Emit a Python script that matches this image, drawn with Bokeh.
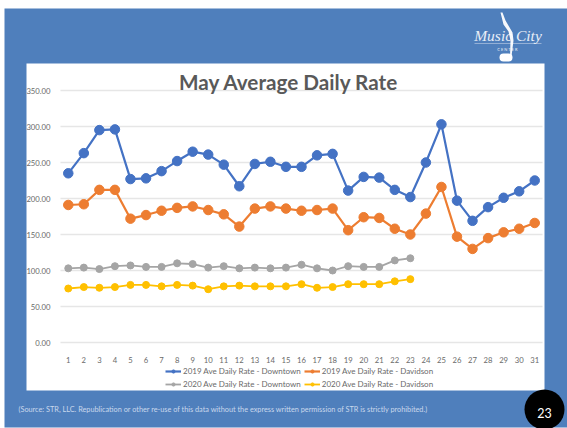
from bokeh.plotting import figure
from bokeh.models import BoxAnnotation, Label, Legend, LegendItem, NumeralTickFormatter, FixedTicker, Range1d, PolyAnnotation
from bokeh.embed import file_html
from bokeh.resources import INLINE

days = list(range(1, 32))
days_2020 = list(range(1, 24))
y_ticks = [0, 50, 100, 150, 200, 250, 300, 350]
rate_2019_downtown = [235, 263, 295, 296, 227, 228, 238, 252, 265, 261, 247, 217, 248, 251, 244, 244, 260, 262, 211, 230, 229, 212, 202, 250, 303, 197, 169, 188, 201, 210, 225]
rate_2019_davidson = [191, 192, 212, 212, 172, 177, 183, 187, 189, 184, 178, 161, 186, 189, 186, 183, 184, 186, 156, 174, 173, 158, 150, 179, 216, 147, 130, 145, 153, 158, 166]
rate_2020_downtown = [103, 104, 102, 106, 107, 105, 105, 110, 109, 104, 106, 103, 104, 103, 104, 108, 103, 100, 106, 105, 105, 114, 117]
rate_2020_davidson = [75, 77, 76, 77, 80, 80, 78, 80, 79, 74, 78, 79, 78, 78, 78, 81, 76, 77, 81, 81, 81, 85, 88]

BLUE_BG = "#4F7FBC"
FONT = "Lato"
TXT = "#6a6a6a"
W, H = 567, 428
L, R, T, B = 60, 542, 90, 342  # plot area on the page
px_x = (R - L) / 31
px_y = (B - T) / 350

p = figure(width=W, height=H, output_backend="svg", toolbar_location=None,
           x_range=Range1d(0.5 - L / px_x, 31.5 + (W - R) / px_x),
           y_range=Range1d(-(H - B) / px_y, 350 + T / px_y),
           min_border=0, min_border_left=0, min_border_right=0, min_border_top=0, min_border_bottom=0,
           border_fill_color="white", background_fill_color="white", outline_line_color=None)


def box(left, right, top, bottom, color, level="image", radius=0, alpha=1.0):
    p.add_layout(BoxAnnotation(left=left, right=right, top=top, bottom=bottom,
                               left_units="canvas", right_units="canvas", top_units="canvas", bottom_units="canvas",
                               fill_color=color, fill_alpha=alpha, line_color=None, level=level, border_radius=radius))


box(4, 567, 8, 427, BLUE_BG)
box(26, 544, 63, 390, "white")

p.xgrid.visible = False
p.ygrid.visible = False
p.segment(x0=[0.5] * len(y_ticks), y0=y_ticks, x1=[31.5] * len(y_ticks), y1=y_ticks,
          line_color="#E6E6E6", line_width=1.5, level="underlay")

p.xaxis.ticker = FixedTicker(ticks=days)
p.yaxis.ticker = FixedTicker(ticks=y_ticks)
p.yaxis.formatter = NumeralTickFormatter(format="0.00")
p.xaxis.fixed_location = 0
p.yaxis.fixed_location = 0.5
for ax in (p.xaxis, p.yaxis):
    ax.axis_line_color = None
    ax.major_tick_line_color = None
    ax.minor_tick_line_color = None
    ax.major_label_text_font = FONT
    ax.major_label_text_font_size = "7.7px"
    ax.major_label_text_color = TXT
p.xaxis.major_label_standoff = 8
p.yaxis.major_label_standoff = 4

series = [
    (days, rate_2019_downtown, "#4472C4", 2.2, 9.5, "2019 Ave Daily Rate - Downtown"),
    (days, rate_2019_davidson, "#ED7D31", 2.2, 9.5, "2019 Ave Daily Rate - Davidson"),
    (days_2020, rate_2020_downtown, "#A5A5A5", 1.8, 7, "2020 Ave Daily Rate - Downtown"),
    (days_2020, rate_2020_davidson, "#FFC000", 1.8, 7, "2020 Ave Daily Rate - Davidson"),
]
items = []
for xs, ys, color, lw, size, name in series:
    r1 = p.line(xs, ys, line_color=color, line_width=lw)
    r2 = p.scatter(xs, ys, size=size, fill_color=color, line_color=color)
    items.append(LegendItem(label=name, renderers=[r1, r2]))

legend = Legend(items=items, ncols=2, orientation="horizontal", location=(165, H - 389),
                background_fill_alpha=0, border_line_color=None, margin=0, padding=0,
                label_text_font=FONT, label_text_font_size="8px", label_text_color=TXT,
                glyph_width=16, glyph_height=8, label_standoff=2, spacing=3, label_height=9,
                item_background_fill_alpha=0)
p.add_layout(legend, "center")

p.add_layout(Label(x=288.5, y=81, x_units="canvas", y_units="canvas", text="May Average Daily Rate",
                   text_font=FONT, text_font_style="bold", text_font_size="20.7px", text_color="#595959",
                   text_align="center", text_baseline="middle"))

p.add_layout(Label(x=18, y=409, x_units="canvas", y_units="canvas",
                   text="(Source: STR, LLC. Republication or other re-use of this data without the express written permission of STR is strictly prohibited.)",
                   text_font=FONT, text_font_size="7.3px", text_color="#C9D8EC",
                   text_align="left", text_baseline="middle"))

box(524, 564, 389, 429, "black", level="annotation", radius=20)
p.add_layout(Label(x=544, y=412, x_units="canvas", y_units="canvas", text="23",
                   text_font=FONT, text_font_size="12.5px", text_color="white",
                   text_align="center", text_baseline="middle", level="overlay"))

# Logo
p.add_layout(Label(x=507.5, y=35, x_units="canvas", y_units="canvas", text="Music City",
                   text_font="Liberation Serif", text_font_style="italic", text_font_size="15.5px", text_color="#E8EEF7",
                   text_align="center", text_baseline="middle"))
box(474, 541, 42.5, 43.5, "#E8EEF7", level="annotation", alpha=0.45)
p.add_layout(Label(x=507, y=48.5, x_units="canvas", y_units="canvas", text="C E N T E R",
                   text_font=FONT, text_font_size="4px", text_color="#E8EEF7",
                   text_align="center", text_baseline="middle"))
p.add_layout(PolyAnnotation(xs=[500, 502, 505, 512, 513, 511, 509.5, 510, 508, 503],
                            ys=[12, 12, 20, 32, 40, 56, 56, 40, 31, 24],
                            xs_units="canvas", ys_units="canvas",
                            fill_color="white", fill_alpha=0.95, line_color=None))
box(499, 512, 53, 61, "white", level="annotation", radius=4)

open("out.html", "w").write(file_html(p, INLINE))
